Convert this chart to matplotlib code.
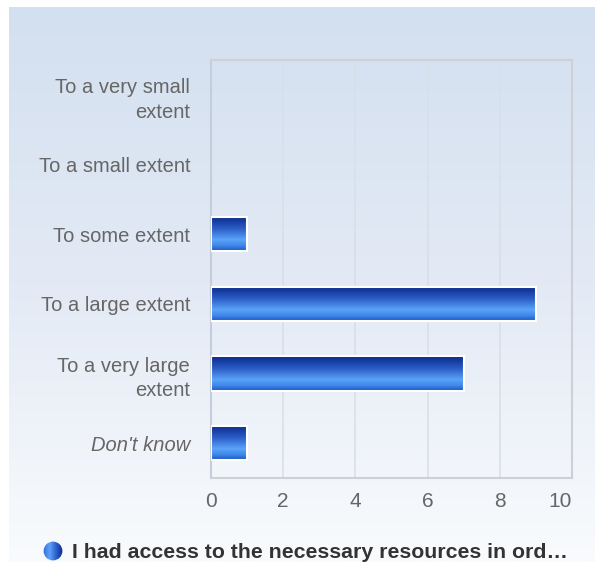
import matplotlib.pyplot as plt
import numpy as np
from matplotlib.colors import LinearSegmentedColormap
from matplotlib.patches import Circle

categories = ["To a very small\nextent", "To a small extent", "To some extent",
              "To a large extent", "To a very large\nextent", "Don't know"]
counts = [0, 0, 1, 9, 7, 1]
xticks = [0, 2, 4, 6, 8, 10]
legendLabel = "I had access to the necessary resources in ord\u2026"

plt.rcParams['font.family'] = ['Liberation Sans', 'DejaVu Sans']

fig = plt.figure(figsize=(5.95, 5.62), dpi=100)
fig.patch.set_facecolor('white')

# page background: light blue fading to white
bg = fig.add_axes([9 / 595, 0, 1 - 9 / 595, 555 / 562], zorder=0)
bgCmap = LinearSegmentedColormap.from_list('bg', ['#d3e0f0', '#e3eaf5', '#f9fbfd'])
bg.imshow(np.linspace(0, 1, 256).reshape(-1, 1), aspect='auto', cmap=bgCmap,
          extent=[0, 1, 0, 1], origin='upper')
bg.axis('off')

ax = fig.add_axes([211 / 595, 1 - 478 / 562, (572 - 211) / 595, (478 - 60) / 562], zorder=1)
ax.patch.set_alpha(0)

barCmap = LinearSegmentedColormap.from_list(
    'bar', [(0, '#0a2888'), (0.35, '#2a5cc6'), (0.68, '#5aa3fa'),
            (0.85, '#3f86e8'), (1, '#1a55c2')])
grad = np.linspace(0, 1, 128).reshape(-1, 1)

n = len(categories)
ypos = np.arange(n)[::-1]
barH = 0.49
for y, v in zip(ypos, counts):
    if v <= 0:
        continue
    ax.imshow(grad, aspect='auto', cmap=barCmap, origin='upper',
              extent=[0, v, y - barH / 2, y + barH / 2], zorder=3)
    ax.barh(y, v, height=barH, facecolor='none', edgecolor='white', linewidth=1.5, zorder=4)

ax.set_xlim(0, 10)
ax.set_ylim(-0.5, n - 0.5)
ax.set_xticks(xticks)
ax.set_xticklabels([str(t) for t in xticks])
ax.get_xticklabels()[-1].set_ha('right')
ax.set_yticks(ypos)
ax.set_yticklabels(categories, ha='right', multialignment='right', linespacing=1.4)
ax.get_yticklabels()[-1].set_style('italic')

ax.grid(axis='x', color='#d9dfe8', linewidth=1.2, zorder=1)
ax.set_axisbelow(True)
ax.tick_params(axis='y', length=0, pad=15, labelsize=14.5, labelcolor='#666666')
ax.tick_params(axis='x', length=0, pad=10, labelsize=15, labelcolor='#666666')
for s in ax.spines.values():
    s.set_color('#cdd1d7')
    s.set_linewidth(1.5)
ax.spines['left'].set_color('#c5cddb')

# legend marker: small gradient circle
lax = fig.add_axes([43 / 595, 1 - 561 / 562, 20 / 595, 20 / 562], zorder=2)
lax.set_xlim(0, 1)
lax.set_ylim(0, 1)
circCmap = LinearSegmentedColormap.from_list('circ', ['#2f6fe0', '#5fa0f8', '#2a5fcc', '#0c2a8a'])
img = lax.imshow(np.linspace(0, 1, 64).reshape(1, -1), aspect='auto', cmap=circCmap,
                 extent=[0, 1, 0, 1])
circ = Circle((0.5, 0.5), 0.47, transform=lax.transData, facecolor='none', edgecolor='none')
lax.add_patch(circ)
img.set_clip_path(circ)
lax.axis('off')

fig.text(72 / 595, 1 - 552 / 562, legendLabel, fontsize=15.3, fontweight='bold',
         color='#333333', ha='left', va='center')

fig.savefig('out.png', dpi=100)
